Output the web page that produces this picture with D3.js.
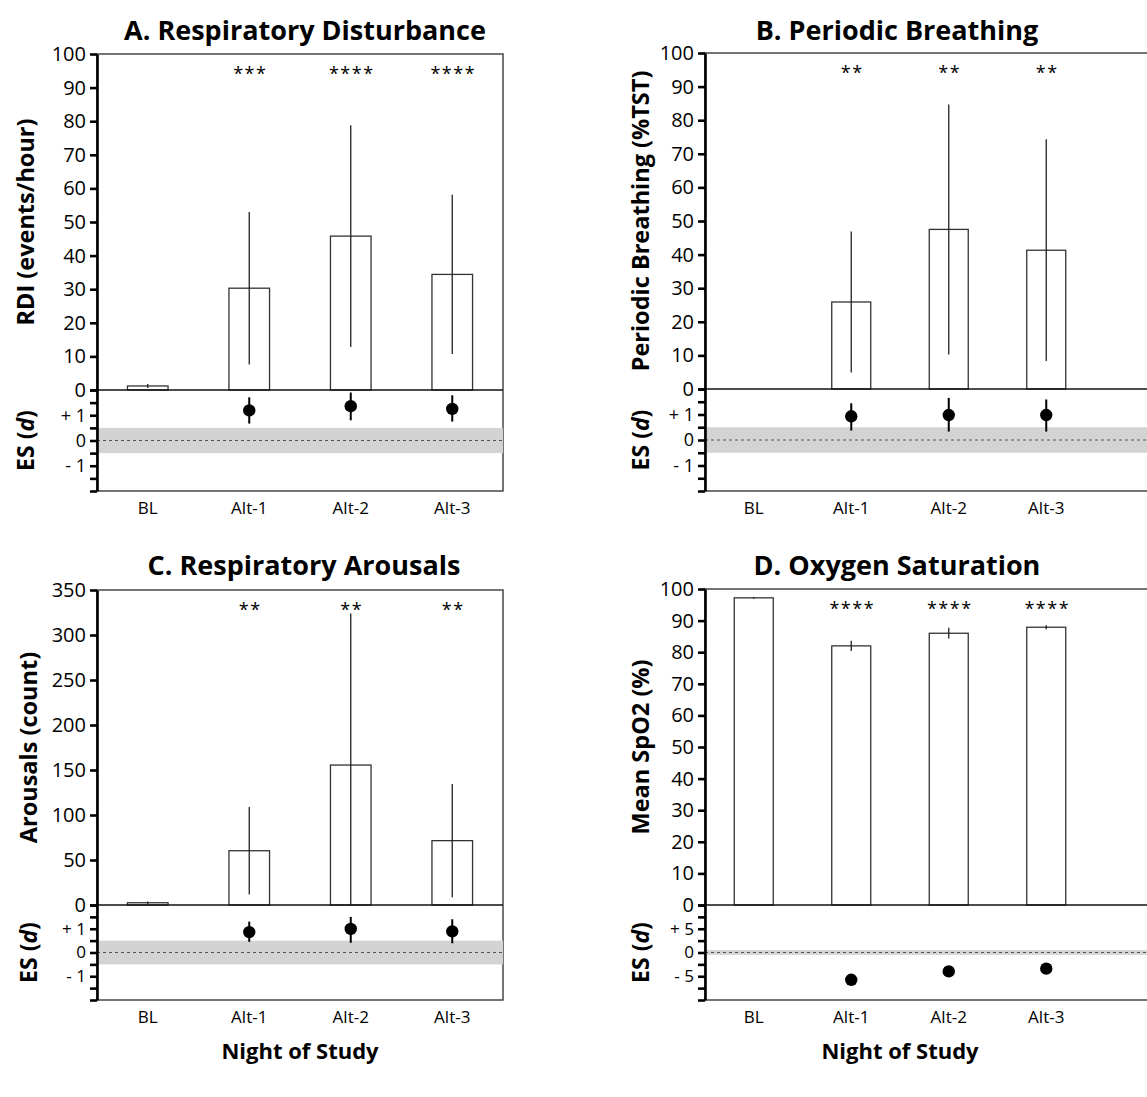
<!DOCTYPE html>
<html>
<head>
<meta charset="utf-8">
<script src="https://cdn.jsdelivr.net/npm/d3@7"></script>
<style>
  body { margin: 0; background: #fff; }
  svg { font-family: "Open Sans", Lato, sans-serif; }
</style>
</head>
<body>
<div id="chart"></div>
<script>
// nights of study
const nights = ["BL", "Alt-1", "Alt-2", "Alt-3"];

// A. respiratory disturbance index (events/hour)
const rdiMean = [1.2, 30.3, 45.8, 34.4];
const rdiSD = [0.6, 22.7, 33.0, 23.7];
const rdiStars = ["", "***", "****", "****"];
const rdiES = [null, 1.19, 1.36, 1.25];
const rdiLo = [null, 0.67, 0.80, 0.75];
const rdiHi = [null, 1.71, 1.90, 1.79];

// B. periodic breathing (%TST)
const pbMean = [0, 25.9, 47.5, 41.3];
const pbSD = [0, 21.0, 37.2, 33.0];
const pbStars = ["", "**", "**", "**"];
const pbES = [null, 0.93, 0.98, 0.98];
const pbLo = [null, 0.37, 0.33, 0.33];
const pbHi = [null, 1.44, 1.65, 1.59];

// C. respiratory arousals (count)
const arMean = [2.5, 60.3, 155.5, 71.5];
const arSD = [1.5, 48.7, 168.5, 63.0];
const arStars = ["", "**", "**", "**"];
const arES = [null, 0.86, 0.99, 0.89];
const arLo = [null, 0.45, 0.41, 0.39];
const arHi = [null, 1.30, 1.50, 1.40];

// D. mean SpO2 (%)
const spMean = [97.2, 82.0, 86.0, 87.9];
const spSD = [0.3, 1.6, 1.7, 0.6];
const spStars = ["", "****", "****", "****"];
const spES = [null, -5.74, -3.98, -3.40];
const spLo = [null, -6.2, -4.4, -3.8];
const spHi = [null, -5.3, -3.6, -3.0];

const width = 1147, height = 1097;

const svg = d3.select("#chart").append("svg")
    .attr("width", width)
    .attr("height", height);

svg.append("rect").attr("width", width).attr("height", height).attr("fill", "#fff");

const panels = [
  {title: "A. Respiratory Disturbance", titleX: 305, titleY: 40, ylab: "RDI (events/hour)", labX: 25,
   left: 97, top: 54, zero: 390, bottom: 491, step: 101.5, right: 503,
   ymax: 100, ystep: 10, esMax: 2, esStep: 0.5, esLab: 1,
   mean: rdiMean, sd: rdiSD, stars: rdiStars, es: rdiES, lo: rdiLo, hi: rdiHi, xTitle: false},
  {title: "B. Periodic Breathing", titleX: 897, titleY: 40, ylab: "Periodic Breathing (%TST)", labX: 640,
   left: 705, top: 53, zero: 389, bottom: 491, step: 97.5, right: 1170,
   ymax: 100, ystep: 10, esMax: 2, esStep: 0.5, esLab: 1,
   mean: pbMean, sd: pbSD, stars: pbStars, es: pbES, lo: pbLo, hi: pbHi, xTitle: false},
  {title: "C. Respiratory Arousals", titleX: 304, titleY: 575, ylab: "Arousals (count)", labX: 28,
   left: 97, top: 590, zero: 905, bottom: 1000, step: 101.5, right: 503,
   ymax: 350, ystep: 50, esMax: 2, esStep: 0.5, esLab: 1,
   mean: arMean, sd: arSD, stars: arStars, es: arES, lo: arLo, hi: arHi, xTitle: true},
  {title: "D. Oxygen Saturation", titleX: 897, titleY: 575, ylab: "Mean SpO2 (%)", labX: 640,
   left: 705, top: 589, zero: 905, bottom: 1000, step: 97.5, right: 1170,
   ymax: 100, ystep: 10, esMax: 10, esStep: 2.5, esLab: 5,
   mean: spMean, sd: spSD, stars: spStars, es: spES, lo: spLo, hi: spHi, xTitle: true}
];

panels.forEach(p => drawPanel(p));

function drawPanel(p) {
  const g = svg.append("g");

  const x = d3.scaleBand()
      .domain(nights)
      .range([p.left, p.left + 4 * p.step])
      .paddingInner(0.6)
      .paddingOuter(0.3);

  const y = d3.scaleLinear().domain([0, p.ymax]).range([p.zero, p.top]);
  const ye = d3.scaleLinear().domain([-p.esMax, p.esMax]).range([p.bottom, p.zero]);

  // frame
  g.append("rect")
      .attr("x", p.left).attr("y", p.top)
      .attr("width", p.right - p.left).attr("height", p.bottom - p.top)
      .attr("fill", "none").attr("stroke", "#3a3a3a").attr("stroke-width", 1.4);

  // ES: trivial-effect band and zero line
  g.append("rect")
      .attr("x", p.left).attr("y", ye(0.5))
      .attr("width", p.right - p.left).attr("height", ye(-0.5) - ye(0.5))
      .attr("fill", "#d3d3d3");
  g.append("line")
      .attr("x1", p.left).attr("x2", p.right)
      .attr("y1", ye(0)).attr("y2", ye(0))
      .attr("stroke", "#555").attr("stroke-width", 1)
      .attr("stroke-dasharray", "3,3");

  const rows = nights.map((n, i) => ({n: n, m: p.mean[i], sd: p.sd[i], s: p.stars[i], es: p.es[i], lo: p.lo[i], hi: p.hi[i]}));

  // bars
  g.selectAll(".bar")
    .data(rows.filter(d => d.m > 0))
    .join("rect")
      .attr("x", d => x(d.n))
      .attr("width", x.bandwidth())
      .attr("y", d => y(d.m))
      .attr("height", d => y(0) - y(d.m))
      .attr("fill", "#fff")
      .attr("stroke", "#333")
      .attr("stroke-width", 1.3);

  // error bars (SD), clipped at zero
  g.selectAll(".err")
    .data(rows.filter(d => d.sd > 0))
    .join("line")
      .attr("x1", d => x(d.n) + x.bandwidth() / 2)
      .attr("x2", d => x(d.n) + x.bandwidth() / 2)
      .attr("y1", d => y(d.m + d.sd))
      .attr("y2", d => y(Math.max(0, d.m - d.sd)))
      .attr("stroke", "#222")
      .attr("stroke-width", 1.3);

  // significance stars
  g.selectAll(".star")
    .data(rows)
    .join("text")
      .attr("x", d => x(d.n) + x.bandwidth() / 2 + 1)
      .attr("y", p.top + 26)
      .attr("text-anchor", "middle")
      .attr("font-size", 18)
      .attr("letter-spacing", 1.5)
      .attr("fill", "#000")
      .text(d => d.s);

  // zero separator between panels
  g.append("line")
      .attr("x1", p.left).attr("x2", p.right)
      .attr("y1", p.zero).attr("y2", p.zero)
      .attr("stroke", "#111").attr("stroke-width", 1.6);

  // effect sizes
  const esRows = rows.filter(d => d.es !== null);
  g.selectAll(".ci")
    .data(esRows)
    .join("line")
      .attr("x1", d => x(d.n) + x.bandwidth() / 2)
      .attr("x2", d => x(d.n) + x.bandwidth() / 2)
      .attr("y1", d => ye(d.hi))
      .attr("y2", d => ye(d.lo))
      .attr("stroke", "#000")
      .attr("stroke-width", 2);
  g.selectAll(".dot")
    .data(esRows)
    .join("circle")
      .attr("cx", d => x(d.n) + x.bandwidth() / 2)
      .attr("cy", d => ye(d.es))
      .attr("r", 6.2)
      .attr("fill", "#000");

  // y axes
  const yAxis = d3.axisLeft(y)
      .tickValues(d3.range(0, p.ymax + 0.01, p.ystep))
      .tickSize(7).tickSizeOuter(0).tickPadding(4);
  const ya = g.append("g")
      .attr("transform", `translate(${p.left},0)`)
      .call(yAxis);

  const esAxis = d3.axisLeft(ye)
      .tickValues(d3.range(-p.esMax, p.esMax + 0.01, p.esStep))
      .tickSize(7).tickSizeOuter(0).tickPadding(4)
      .tickFormat(v => v === p.esLab ? "+ " + p.esLab : v === 0 ? "0" : v === -p.esLab ? "- " + p.esLab : "");
  const ea = g.append("g")
      .attr("transform", `translate(${p.left},0)`)
      .call(esAxis);
  // drop the unlabelled ES tick texts
  ea.selectAll(".tick text").filter(function() { return this.textContent === ""; }).remove();

  const esGap = (p.bottom - p.zero) / 4;
  [ya, ea].forEach((a, k) => {
    a.select(".domain").attr("stroke", "#000").attr("stroke-width", 2.6);
    a.selectAll(".tick line").attr("stroke", "#000").attr("stroke-width", 2.6);
    a.selectAll(".tick text")
        .attr("font-size", k === 0 ? 20 : Math.min(18, esGap * 0.72))
        .attr("fill", "#000")
        .style("font-family", "'Open Sans', Lato, sans-serif");
  });

  // x labels
  g.selectAll(".xl")
    .data(nights)
    .join("text")
      .attr("x", d => x(d) + x.bandwidth() / 2)
      .attr("y", p.bottom + 23)
      .attr("text-anchor", "middle")
      .attr("font-size", 17)
      .text(d => d);

  // titles
  g.append("text")
      .attr("x", p.titleX).attr("y", p.titleY)
      .attr("text-anchor", "middle")
      .attr("font-size", 27).attr("font-weight", "bold")
      .text(p.title);

  g.append("text")
      .attr("transform", `translate(${p.labX},${(p.top + p.zero) / 2}) rotate(-90)`)
      .attr("text-anchor", "middle")
      .attr("dominant-baseline", "central")
      .attr("font-size", 23.5).attr("font-weight", "bold")
      .text(p.ylab);

  const esT = g.append("text")
      .attr("transform", `translate(${p.labX},${(p.zero + p.bottom) / 2}) rotate(-90)`)
      .attr("text-anchor", "middle")
      .attr("dominant-baseline", "central")
      .attr("font-size", 23).attr("font-weight", "bold");
  esT.append("tspan").text("ES (");
  esT.append("tspan").attr("font-style", "italic").text("d");
  esT.append("tspan").text(")");

  if (p.xTitle) {
    g.append("text")
        .attr("x", p.left + 2 * p.step).attr("y", 1059)
        .attr("text-anchor", "middle")
        .attr("font-size", 22).attr("font-weight", "bold")
        .text("Night of Study");
  }
}
</script>
</body>
</html>
